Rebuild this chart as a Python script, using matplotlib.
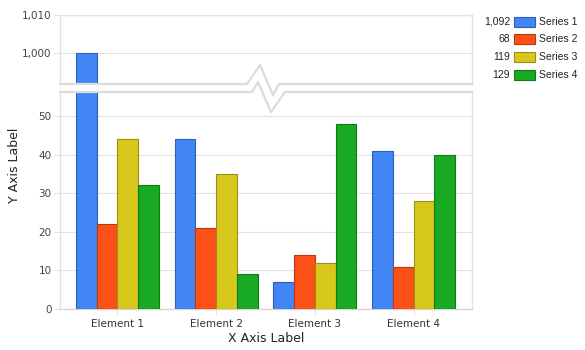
import matplotlib
matplotlib.use("Agg")
import matplotlib.pyplot as plt
from matplotlib.lines import Line2D
from matplotlib.patches import Rectangle
import numpy as np

categories = ["Element 1", "Element 2", "Element 3", "Element 4"]
series_names = ["Series 1", "Series 2", "Series 3", "Series 4"]
s1 = [1000, 44, 7, 41]
s2 = [22, 21, 14, 11]
s3 = [44, 35, 12, 28]
s4 = [32, 9, 48, 40]
series = [s1, s2, s3, s4]
face = ["#4285f4", "#fd5016", "#d8c81b", "#19aa24"]
edge = ["#2b5fb8", "#b53a10", "#9c9014", "#0f7a17"]
low_ticks = [0, 10, 20, 30, 40, 50]
high_ticks = [1000, 1010]

W, H = 585, 350
fig = plt.figure(figsize=(W / 100, H / 100), dpi=100)
fig.patch.set_facecolor("white")

def fx(px):
    return px / W

def fy(py):
    return 1 - py / H

L, R = 60, 472
ax_top = fig.add_axes([fx(L), fy(84), fx(R) - fx(L), fy(15) - fy(84)])
ax_bot = fig.add_axes([fx(L), fy(309), fx(R) - fx(L), fy(92) - fy(309)])

grid_c = "#e2e2e2"
x = np.arange(len(categories))
bw = 0.21
for ax in (ax_top, ax_bot):
    for i, (vals, fc, ec) in enumerate(zip(series, face, edge)):
        ax.bar(x + (i - 1.5) * bw, vals, width=bw, color=fc, edgecolor=ec,
               linewidth=0.8, zorder=3)
    ax.set_xlim(-0.58, 3.59)
    for s in ax.spines.values():
        s.set_color(grid_c)
        s.set_linewidth(1.0)
    ax.tick_params(axis="y", length=4, color=grid_c, labelsize=7.5,
                   labelcolor="#444444", pad=2)
    ax.yaxis.grid(True, color=grid_c, linewidth=0.8, zorder=0)
    ax.set_axisbelow(True)

ax_top.set_ylim(991.8, 1010)
ax_top.set_yticks(high_ticks)
ax_top.set_yticklabels([f"{v:,}" for v in high_ticks])
ax_top.spines["bottom"].set_visible(False)
ax_top.set_xticks([])

ax_bot.set_ylim(0, 56.2)
ax_bot.set_yticks(low_ticks)
ax_bot.spines["top"].set_visible(False)
ax_bot.spines["bottom"].set_color("#d6d6d6")
ax_bot.set_xticks(x)
ax_bot.set_xticklabels(categories)
ax_bot.tick_params(axis="x", length=4, color=grid_c, labelsize=7.5,
                   labelcolor="#333333", pad=3)
ax_bot.set_xlabel("X Axis Label", fontsize=9, color="#222222", labelpad=2)
fig.text(fx(15), fy(165), "Y Axis Label", rotation=90, fontsize=9,
         color="#222222", ha="center", va="center")

# break lines with zigzag
upper = [(L, 84), (247, 84), (260, 65), (273, 95), (279, 84), (R, 84)]
lower = [(L, 92), (252, 92), (258, 82), (271, 112), (285, 92), (R, 92)]
for pts in (upper, lower):
    fig.add_artist(Line2D([fx(p[0]) for p in pts], [fy(p[1]) for p in pts],
                          color="#dcdcdc", linewidth=1.6, zorder=10))

# legend with totals
rows_y = [22, 39, 57, 75]
for name, vals, fc, ec, yy in zip(series_names, series, face, edge, rows_y):
    fig.text(fx(510), fy(yy), f"{sum(vals):,}", ha="right", va="center",
             fontsize=7.5, family="Liberation Sans", color="#222222")
    fig.add_artist(Rectangle((fx(514), fy(yy + 5)), fx(21), fy(yy - 5) - fy(yy + 5),
                             facecolor=fc, edgecolor=ec, linewidth=0.8,
                             transform=fig.transFigure))
    fig.text(fx(539), fy(yy), name, ha="left", va="center",
             fontsize=7.5, family="Liberation Sans", color="#222222")

fig.savefig("out.png", dpi=100)
